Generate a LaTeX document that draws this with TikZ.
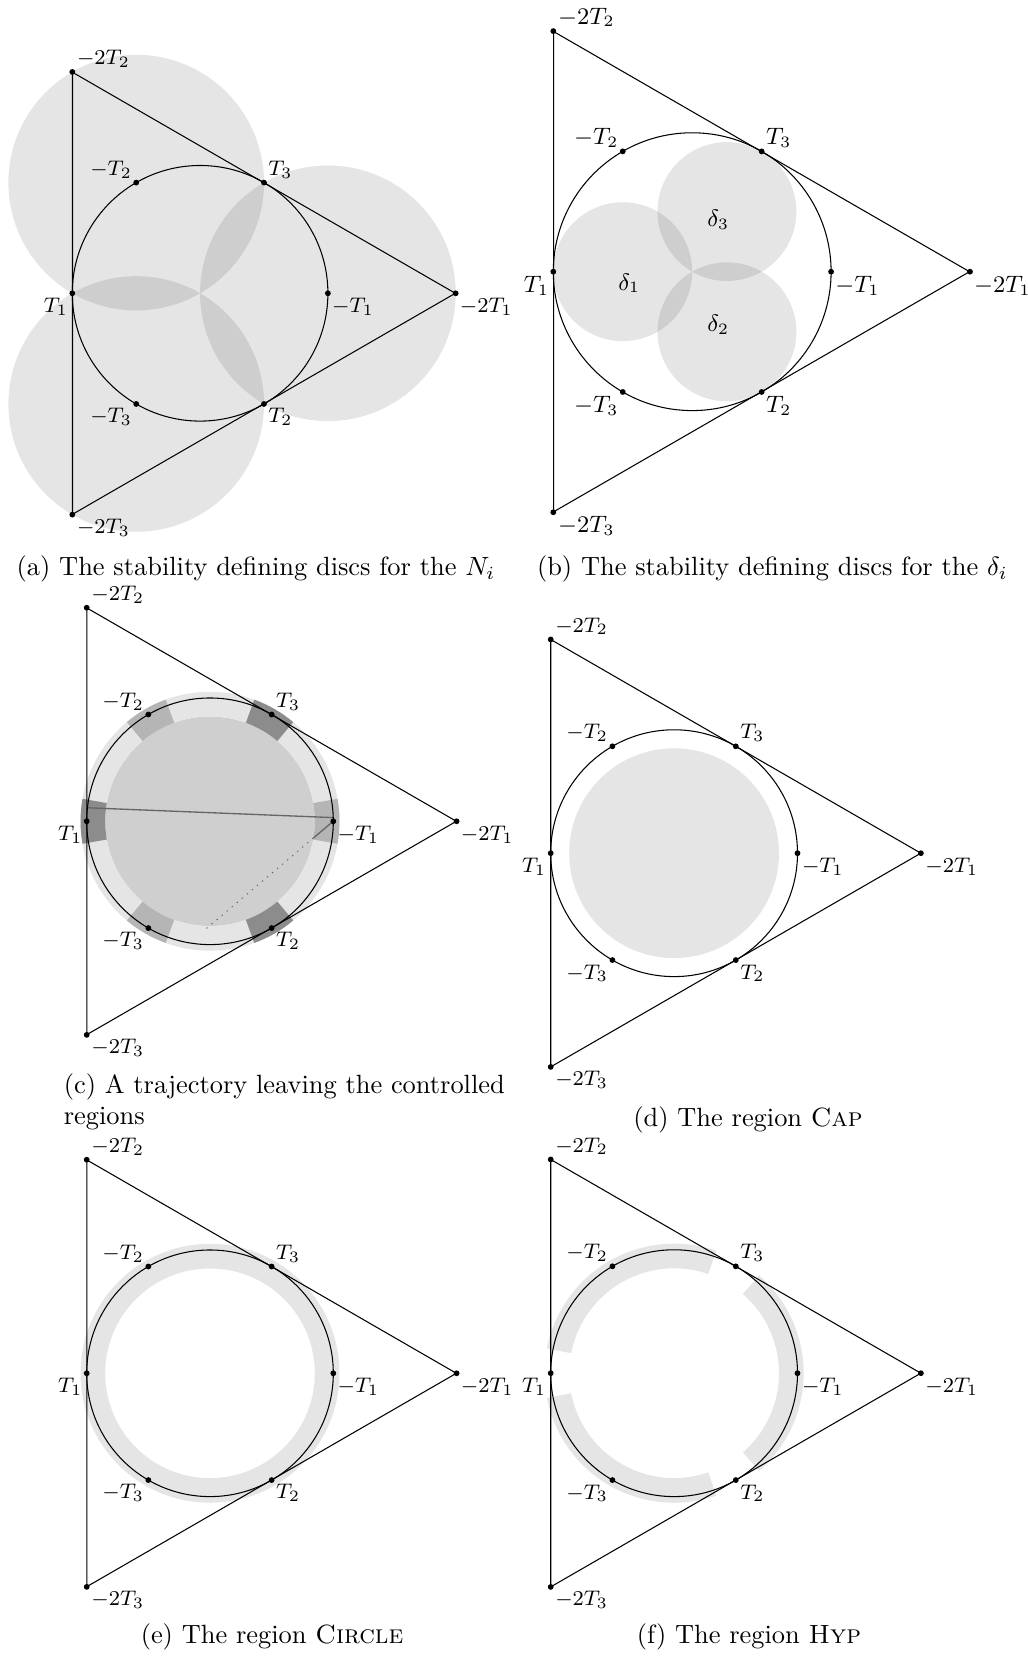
\documentclass[tikz,border=0pt]{standalone}
\usepackage{amsmath,amssymb}

\begin{document}
\begin{tikzpicture}[x=0.3788pt,y=0.3788pt,
  dot/.style={circle,fill=black,inner sep=0pt,minimum size=2.2pt},
  lab/.style={font=\fontsize{8.3}{9.8}\selectfont,inner sep=0.6pt},
  edge/.style={draw=black,line width=0.4pt},
  disc/.style={fill=black,fill opacity=0.1},
  reg/.style={fill=black!10},
  traj/.style={draw=black!60,line width=0.5pt},
  capt/.style={font=\normalsize,inner sep=0pt}]
  \useasboundingbox (0,0) rectangle (1028,1656);
  % ---------- triangle -2T_i with the circle through the T_i ----------
  \def\trianglebase{
    \node[dot,label={[lab]below left:$T_1$}] (t1) at (180:1) {};
    \node[dot,label={[lab]below right:$T_2$}] (t2) at (-60:1) {};
    \node[dot,label={[lab]above right:$T_3$}] (t3) at (60:1) {};
    \node[dot,label={[lab]below right:$-T_1$}] (m1) at (0:1) {};
    \node[dot,label={[lab]above left:$-T_2$}] (m2) at (120:1) {};
    \node[dot,label={[lab]below left:$-T_3$}] (m3) at (240:1) {};
    \node[dot,label={[lab]below right:$-2T_1$}] (mm1) at (0:2) {};
    \node[dot,label={[lab]above right:$-2T_2$}] (mm2) at (120:2) {};
    \node[dot,label={[lab]below right:$-2T_3$}] (mm3) at (240:2) {};
    \draw[edge] (mm1.center) -- (mm2.center) -- (mm3.center) -- cycle;
    \draw[edge] (0,0) circle (1);
  }
  % ---------- (a): discs of radius 1 round the -T_i ----------
  \begin{scope}[shift={(200.1,1362.7)},scale=127.8]
    \foreach \a in {0,120,240} {
      \fill[disc] (\a:1) circle (1);
    }
    \trianglebase
  \end{scope}
  \node[capt,anchor=base] (capa) at (256,1080.7) {(a) The stability defining discs for the $N_i$};
  % ---------- (b): the discs delta_i ----------
  \begin{scope}[shift={(692.2,1384.3)},scale=138.9,lab/.append style={font=\fontsize{9}{10.5}\selectfont}]
    \foreach \a in {180,-60,60} {
      \fill[disc] (\a:0.5) circle (0.5);
    }
    \trianglebase
    \node[lab] (d1) at (-0.453,-0.084) {$\delta_1$};
    \node[lab] (d2) at (0.188,-0.384) {$\delta_2$};
    \node[lab] (d3) at (0.188,0.372) {$\delta_3$};
  \end{scope}
  \node[capt,anchor=base] (capb) at (772.3,1080.7) {(b) The stability defining discs for the $\delta_i$};
  % ---------- (c): a trajectory through the regions ----------
  \begin{scope}[shift={(210,834.7)},scale=123.3]
    \fill[black!19] (0,0) circle (0.85);
    \fill[reg,even odd rule] (0,0) circle (1.05) (0,0) circle (0.85);
    \foreach \a/\c in {180/45,-60/45,60/45,0/29,120/29,240/29} {
      \fill[black!\c] ({\a-10}:0.85) arc[start angle={\a-10},end angle={\a+10},radius=0.85]
        -- ({\a+10}:1.05) arc[start angle={\a+10},end angle={\a-10},radius=1.05] -- cycle;
    }
    \coordinate (p0) at (-1,0.11);
    \coordinate (p1) at (1,0.03);
    \coordinate (q) at (0:1);
    \coordinate (p2) at (0.839,-0.136);
    \coordinate (p3) at (-0.04,-0.88);
    \draw[traj] (p0) -- (p1);
    \draw[traj] (q) -- (p2);
    \draw[traj,dotted,line width=0.35pt] (p2) -- (p3);
    \trianglebase
  \end{scope}
  \node[capt,anchor=north west,align=left] (capc) at (63.3,583.1) {(c) A trajectory leaving the controlled\\regions};
  % ---------- (d): Cap ----------
  \begin{scope}[shift={(674.1,802.8)},scale=123.4]
    \fill[reg] (0,0) circle (0.85);
    \trianglebase
  \end{scope}
  \node[capt,anchor=base] (capd) at (748,529.6) {(d) The region \textsc{Cap}};
  % ---------- (e): Circle ----------
  \begin{scope}[shift={(210,282.7)},scale=123.3]
    \fill[reg,even odd rule] (0,0) circle (1.05) (0,0) circle (0.85);
    \trianglebase
  \end{scope}
  \node[capt,anchor=base] (cape) at (272,12.7) {(e) The region \textsc{Circle}};
  % ---------- (f): Hyp, the ring without the T_i ----------
  \begin{scope}[shift={(674.1,282.8)},scale=123.4]
    \foreach \a in {60,180,300} {
      \fill[reg] ({\a+11}:0.85) arc[start angle={\a+11},end angle={\a+109},radius=0.85]
        -- ({\a+109}:1.05) arc[start angle={\a+109},end angle={\a+11},radius=1.05] -- cycle;
    }
    \trianglebase
  \end{scope}
  \node[capt,anchor=base] (capf) at (749,12.7) {(f) The region \textsc{Hyp}};
\end{tikzpicture}
\end{document}
